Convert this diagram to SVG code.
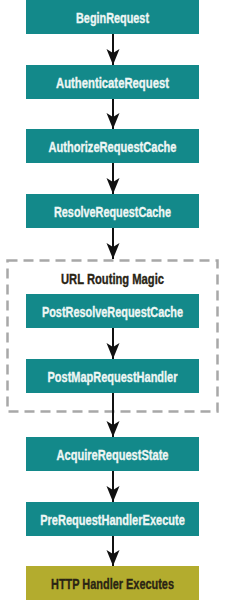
<svg xmlns="http://www.w3.org/2000/svg" width="225" height="600" viewBox="0 0 225 600">
<defs>
<marker id="ah" markerUnits="userSpaceOnUse" markerWidth="18" markerHeight="14" viewBox="-17 -7 18 14" refX="0" refY="0" orient="auto">
<path d="M0,0 L-16,-6.5 L-12,0 L-16,6.5 Z" fill="#111"/>
</marker>
<style>
.box{fill:#13898a}
.hb{fill:#b3ac2e}
.t{font-family:"Liberation Sans",Arial,sans-serif;font-weight:bold;font-size:15px;fill:#eef6f4;stroke:#eef6f4;stroke-width:0.35;text-anchor:middle}
.td{font-family:"Liberation Sans",Arial,sans-serif;font-weight:bold;font-size:15px;fill:#2a2414;stroke:#2a2414;stroke-width:0.35;text-anchor:middle}
.c{stroke:#111;stroke-width:2;fill:none;marker-end:url(#ah)}
</style>
</defs>
<g id="group-url-routing">
<rect x="7.5" y="260.5" width="210" height="151" fill="none" stroke="#a8a8a8" stroke-width="2.5" stroke-dasharray="10 6"/>
<text class="td" x="112.5" y="284" textLength="103" lengthAdjust="spacingAndGlyphs">URL Routing Magic</text>
</g>
<g id="connectors">
<line class="c" x1="113" y1="34" x2="113" y2="65"/>
<line class="c" x1="113" y1="99" x2="113" y2="129"/>
<line class="c" x1="113" y1="163" x2="113" y2="194"/>
<line class="c" x1="113" y1="228" x2="113" y2="259"/>
<line class="c" x1="113" y1="328" x2="113" y2="359"/>
<line class="c" x1="113" y1="393" x2="113" y2="437"/>
<line class="c" x1="113" y1="471" x2="113" y2="502"/>
<line class="c" x1="113" y1="536" x2="113" y2="566"/>
</g>
<g id="n1"><rect class="box" x="26" y="0" width="173" height="34"/><text class="t" x="112.5" y="22.5" textLength="73" lengthAdjust="spacingAndGlyphs">BeginRequest</text></g>
<g id="n2"><rect class="box" x="26" y="65" width="173" height="34"/><text class="t" x="112.5" y="87.5" textLength="113" lengthAdjust="spacingAndGlyphs">AuthenticateRequest</text></g>
<g id="n3"><rect class="box" x="26" y="129" width="173" height="34"/><text class="t" x="112.5" y="151.5" textLength="128" lengthAdjust="spacingAndGlyphs">AuthorizeRequestCache</text></g>
<g id="n4"><rect class="box" x="26" y="194" width="173" height="34"/><text class="t" x="112.5" y="216.5" textLength="117" lengthAdjust="spacingAndGlyphs">ResolveRequestCache</text></g>
<g id="n5"><rect class="box" x="26" y="294" width="173" height="34"/><text class="t" transform="translate(112.5,316.5) scale(0.727,1)" x="0" y="0">PostResolveRequestCache</text></g>
<g id="n6"><rect class="box" x="26" y="359" width="173" height="34"/><text class="t" x="112.5" y="381.5" textLength="130" lengthAdjust="spacingAndGlyphs">PostMapRequestHandler</text></g>
<g id="n7"><rect class="box" x="26" y="437" width="173" height="34"/><text class="t" x="112.5" y="459.5" textLength="112" lengthAdjust="spacingAndGlyphs">AcquireRequestState</text></g>
<g id="n8"><rect class="box" x="26" y="502" width="173" height="34"/><text class="t" transform="translate(112.5,524.5) scale(0.736,1)" x="0" y="0">PreRequestHandlerExecute</text></g>
<g id="n9"><rect class="hb" x="26" y="566" width="173" height="34"/><text class="td" x="112.5" y="588.5" textLength="123" lengthAdjust="spacingAndGlyphs">HTTP Handler Executes</text></g>
</svg>
